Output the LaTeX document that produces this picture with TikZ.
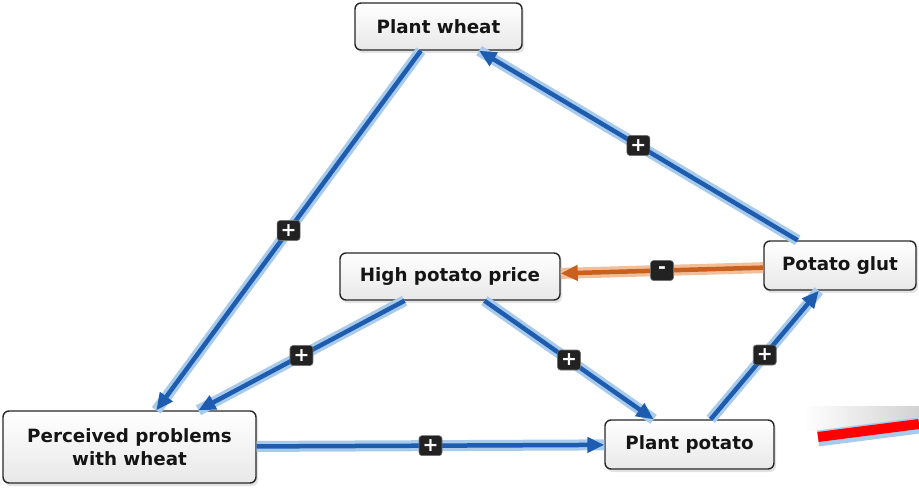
\documentclass[tikz,border=0pt]{standalone}
\usepackage{fontspec}
\setmainfont{DejaVu Sans}
\usetikzlibrary{arrows.meta,shadows}
\definecolor{core}{HTML}{1E5CB0}
\definecolor{halo}{HTML}{A8CBEC}
\definecolor{ocore}{HTML}{C8601E}
\definecolor{ohalo}{HTML}{F2BE9A}
\definecolor{boxborder}{HTML}{262626}
\definecolor{txt}{HTML}{151515}
\definecolor{signbg}{HTML}{222222}
\begin{document}
\begin{tikzpicture}[x=1pt,y=-1pt,
  box/.style={draw=boxborder, line width=1.4pt, rounded corners=6pt,
    top color=white, bottom color=black!9,
    drop shadow={shadow xshift=2pt, shadow yshift=-3pt, opacity=0.22},
    font=\fontsize{18.3}{23.5}\selectfont\bfseries, text=txt, align=center, inner sep=0pt},
  link/.style={core, line width=4.5pt, -{Triangle[length=17pt,width=15pt]},
    preaction={draw=halo, line width=11pt, arrows=-}},
  olink/.style={ocore, line width=4.5pt, -{Triangle[length=17pt,width=15pt]},
    preaction={draw=ohalo, line width=11pt, arrows=-}},
  sign/.style={fill=signbg, draw=black!55, line width=0.6pt, rounded corners=3pt,
    minimum width=23pt, minimum height=20pt, inner sep=0pt, text=white,
    font=\fontsize{19}{19}\selectfont\bfseries}
]
\useasboundingbox (0,0) rectangle (919,488);

% red mark at bottom right
\shade[left color=white, right color=black!22, opacity=0.8] (803,406) rectangle (919,430);
\coordinate (r1) at (818,437);
\coordinate (r2) at (919,424);
\draw[halo, line width=16pt, transform canvas={yshift=-1.5pt}] (r1) -- (r2);
\draw[red, line width=10pt] (r1) -- (r2);

% nodes
\node[box, minimum width=167pt, minimum height=47pt] (pw) at (438.5,26.5) {Plant wheat};
\node[box, minimum width=220pt, minimum height=47pt] (hpp) at (450,276.5) {High potato price};
\node[box, minimum width=152pt, minimum height=49pt] (pg) at (840,265.5) {Potato glut};
\node[box, minimum width=253pt, minimum height=72pt] (ppw) at (129.5,447) {Perceived problems\\with wheat};
\node[box, minimum width=169pt, minimum height=49pt] (pp) at (689.5,444.5) {Plant potato};

% connectors
\draw[link] (pw) -- node[sign] (s1) {+} (ppw);
\draw[link] (pg) -- node[sign] (s2) {+} (pw);
\draw[olink] (pg) -- node[sign] (s3) {-} (hpp);
\draw[link] (hpp) -- node[sign] (s4) {+} (ppw);
\draw[link] (hpp) -- node[sign] (s5) {+} (pp);
\draw[link] (ppw) -- node[sign] (s6) {+} (pp);
\draw[link] (pp) -- node[sign] (s7) {+} (pg);
\end{tikzpicture}
\end{document}
